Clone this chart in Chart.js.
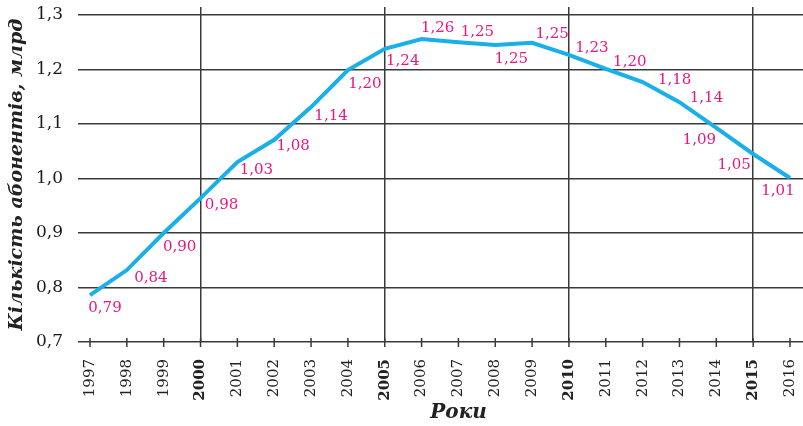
<!DOCTYPE html>
<html>
<head>
<meta charset="utf-8">
<script src="https://cdn.jsdelivr.net/npm/chart.js@4"></script>
<style>
  body { margin: 0; background: #fff; }
  #wrap { width: 803px; height: 426px; }
</style>
</head>
<body>
<div id="wrap"><canvas id="chart" width="803" height="426"></canvas></div>
<script>
// data
const years = [1997, 1998, 1999, 2000, 2001, 2002, 2003, 2004, 2005, 2006,
               2007, 2008, 2009, 2010, 2011, 2012, 2013, 2014, 2015, 2016];
const subscribers = [0.786, 0.832, 0.900, 0.964, 1.030, 1.071, 1.131, 1.199, 1.238, 1.256,
                     1.250, 1.245, 1.249, 1.227, 1.201, 1.177, 1.140, 1.093, 1.045, 1.001];
const valueLabels = ['0,79', '0,84', '0,90', '0,98', '1,03', '1,08', '1,14', '1,20', '1,24', '1,26',
                     '1,25', '1,25', '1,25', '1,23', '1,20', '1,18', '1,14', '1,09', '1,05', '1,01'];
const yTitle = 'Кількість абонентів, млрд';
const xTitle = 'Роки';

const serif = "'DejaVu Serif', serif";
const gridColor = '#3a3a3a';

// where each value label sits relative to its point
const labelOffsets = [[15, 13], [24, 8], [16, 14], [21, 7], [19, 8], [19, 6], [20, 9], [17, 14],
                      [18, 12], [16, -11], [19, -10], [16, 14], [20, -9], [23, -7], [24, -7],
                      [32, -2], [27, -4], [-17, 12], [-19, 11], [-12, 13]];

// stop chart.js from reserving room for overhanging labels
function noPadding(s) {
  s.paddingLeft = 0;
  s.paddingRight = 0;
  s.paddingTop = 0;
  s.paddingBottom = 0;
}

const extras = {
  id: 'extras',
  afterDraw(chart) {
    const ctx = chart.ctx;
    const area = chart.chartArea;
    const xs = chart.scales.x;
    const meta = chart.getDatasetMeta(0);

    ctx.save();
    // tick marks across the axis
    ctx.strokeStyle = gridColor;
    ctx.lineWidth = 1.5;
    years.forEach(y => {
      const px = xs.getPixelForValue(y);
      ctx.beginPath();
      ctx.moveTo(px, area.bottom - 4);
      ctx.lineTo(px, area.bottom + 5);
      ctx.stroke();
    });

    // value labels
    ctx.fillStyle = '#e8177f';
    ctx.font = '15px ' + serif;
    ctx.textAlign = 'center';
    ctx.textBaseline = 'middle';
    meta.data.forEach((pt, i) => {
      const o = labelOffsets[i];
      ctx.fillText(valueLabels[i], pt.x + o[0], pt.y + o[1]);
    });

    // axis titles
    ctx.fillStyle = '#222';
    ctx.font = 'italic bold 19px ' + serif;
    ctx.save();
    ctx.translate(17, (area.top + area.bottom) / 2);
    ctx.rotate(-Math.PI / 2);
    ctx.fillText(yTitle, 0, 0);
    ctx.restore();

    ctx.font = 'italic bold 20px ' + serif;
    ctx.fillText(xTitle, (area.left + area.right) / 2 + 18, 413);
    ctx.restore();
  }
};

new Chart(document.getElementById('chart').getContext('2d'), {
  type: 'line',
  data: {
    datasets: [{
      data: years.map((y, i) => ({ x: y, y: subscribers[i] })),
      borderColor: '#19afe8',
      borderWidth: 4,
      pointRadius: 0,
      tension: 0,
      fill: false
    }]
  },
  options: {
    responsive: false,
    animation: false,
    layout: { padding: { top: 7, right: 0, left: 0, bottom: 0 } },
    plugins: { legend: { display: false }, tooltip: { enabled: false } },
    scales: {
      x: {
        type: 'linear',
        min: 1996.674,
        max: 2016.353,
        afterBuildTicks: s => { s.ticks = years.map(v => ({ value: v })); },
        afterFit: s => { s.height = 84; noPadding(s); },
        border: { display: false },
        grid: {
          color: c => (c.tick && c.tick.value % 5 === 0) ? gridColor : 'rgba(0,0,0,0)',
          lineWidth: 1.5,
          drawTicks: false
        },
        ticks: {
          autoSkip: false,
          minRotation: 90,
          maxRotation: 90,
          padding: 17,
          color: '#222',
          font: c => ({ family: serif, size: 15, weight: (c.tick && c.tick.value % 5 === 0) ? 'bold' : 'normal' }),
          callback: v => String(v)
        }
      },
      y: {
        min: 0.7,
        max: 1.3147,
        afterFit: s => { s.width = 78; noPadding(s); },
        border: { display: false },
        grid: { color: gridColor, lineWidth: 1.5, drawTicks: false },
        ticks: {
          stepSize: 0.1,
          includeBounds: false,
          padding: 15,
          color: '#1a1a1a',
          font: { family: serif, size: 17 },
          callback: v => v.toFixed(1).replace('.', ',')
        }
      }
    }
  },
  plugins: [extras]
});
</script>
</body>
</html>
